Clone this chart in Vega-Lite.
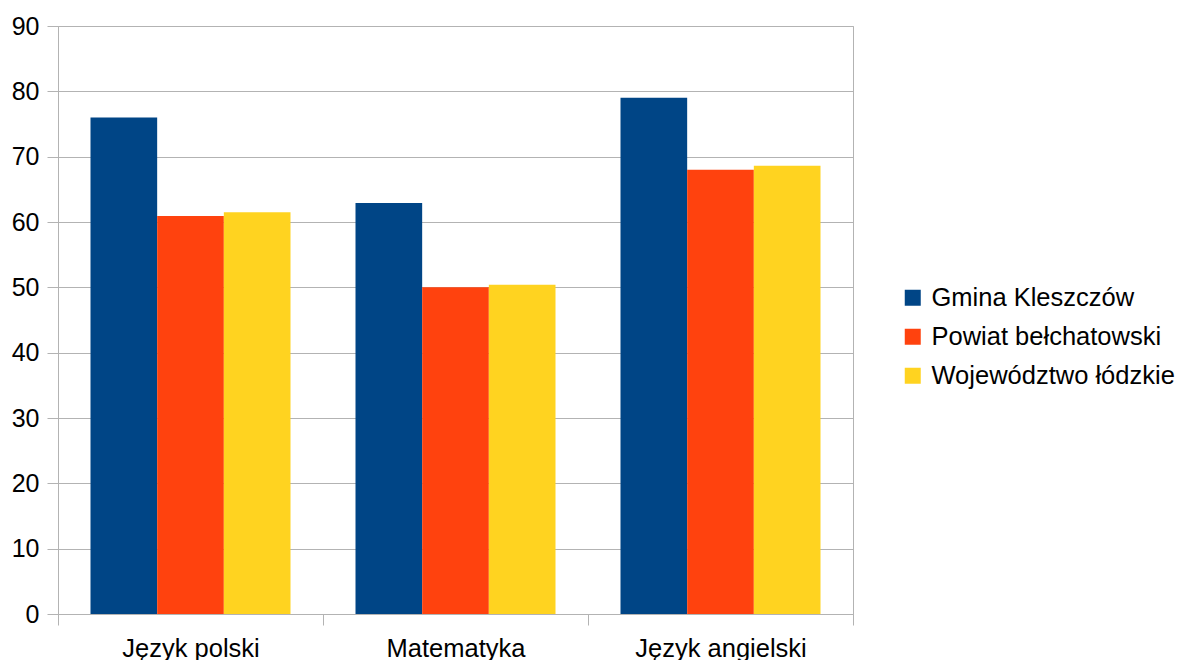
{
  "$schema": "https://vega.github.io/schema/vega-lite/v6.json",
  "autosize": "none",
  "width": 795,
  "height": 588,
  "padding": {"left": 58, "top": 26, "right": 325, "bottom": 46},
  "background": "white",
  "config": {
    "font": "Liberation Sans",
    "view": {"stroke": "#b3b3b3", "strokeWidth": 1}
  },
  "data": {
    "values": [
      {"przedmiot": "Język polski", "jednostka": "Gmina Kleszczów", "wynik": 76},
      {"przedmiot": "Język polski", "jednostka": "Powiat bełchatowski", "wynik": 60.9},
      {"przedmiot": "Język polski", "jednostka": "Województwo łódzkie", "wynik": 61.5},
      {"przedmiot": "Matematyka", "jednostka": "Gmina Kleszczów", "wynik": 62.9},
      {"przedmiot": "Matematyka", "jednostka": "Powiat bełchatowski", "wynik": 50},
      {"przedmiot": "Matematyka", "jednostka": "Województwo łódzkie", "wynik": 50.4},
      {"przedmiot": "Język angielski", "jednostka": "Gmina Kleszczów", "wynik": 79},
      {"przedmiot": "Język angielski", "jednostka": "Powiat bełchatowski", "wynik": 68},
      {"przedmiot": "Język angielski", "jednostka": "Województwo łódzkie", "wynik": 68.6}
    ]
  },
  "mark": {"type": "bar"},
  "encoding": {
    "x": {
      "field": "przedmiot",
      "type": "nominal",
      "sort": ["Język polski", "Matematyka", "Język angielski"],
      "scale": {"paddingInner": 0, "paddingOuter": 0},
      "axis": {
        "title": null,
        "labelAngle": 0,
        "labelFontSize": 25.5,
        "labelColor": "black",
        "labelPadding": 11,
        "tickBand": "extent",
        "tickColor": "#b3b3b3",
        "tickSize": 11,
        "domainColor": "#b3b3b3",
        "grid": false
      }
    },
    "xOffset": {
      "field": "jednostka",
      "type": "nominal",
      "sort": ["Gmina Kleszczów", "Powiat bełchatowski", "Województwo łódzkie"],
      "scale": {"paddingInner": 0, "paddingOuter": 0.4875}
    },
    "y": {
      "field": "wynik",
      "type": "quantitative",
      "scale": {"domain": [0, 90], "nice": false},
      "axis": {
        "title": null,
        "values": [0, 10, 20, 30, 40, 50, 60, 70, 80, 90],
        "labelFontSize": 25,
        "labelColor": "black",
        "labelPadding": 8,
        "tickColor": "#b3b3b3",
        "tickSize": 11,
        "gridColor": "#b3b3b3",
        "domainColor": "#b3b3b3"
      }
    },
    "color": {
      "field": "jednostka",
      "type": "nominal",
      "sort": ["Gmina Kleszczów", "Powiat bełchatowski", "Województwo łódzkie"],
      "scale": {
        "domain": ["Gmina Kleszczów", "Powiat bełchatowski", "Województwo łódzkie"],
        "range": ["#004586", "#ff420e", "#ffd320"]
      },
      "legend": {
        "title": null,
        "orient": "none",
        "legendX": 842,
        "legendY": 259,
        "symbolType": "square",
        "symbolSize": 256,
        "symbolStrokeWidth": 0,
        "labelFontSize": 25.5,
        "labelColor": "black",
        "labelOffset": 6,
        "labelLimit": 400,
        "rowPadding": 12
      }
    }
  }
}
